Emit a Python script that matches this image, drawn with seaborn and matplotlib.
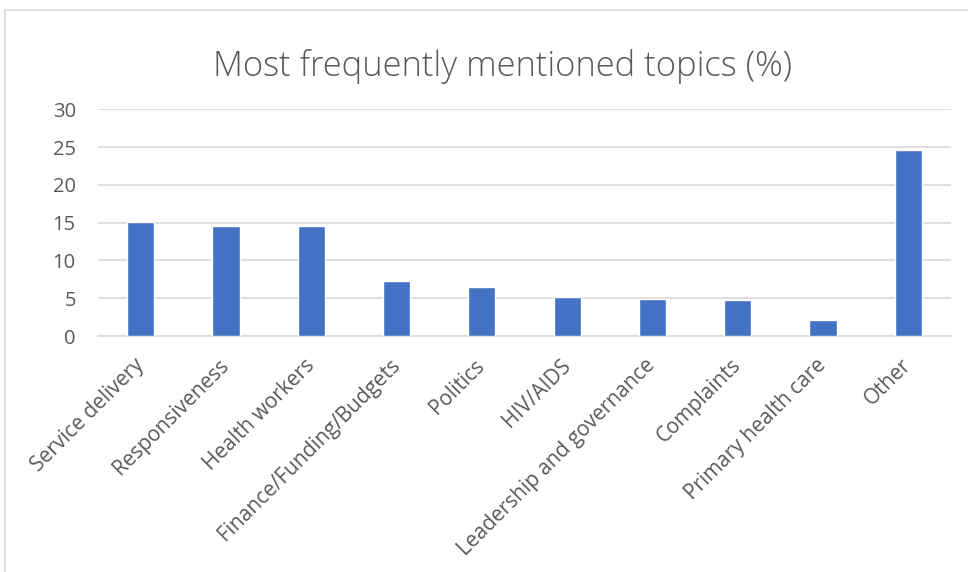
import matplotlib
matplotlib.use("Agg")
import matplotlib.pyplot as plt
import seaborn as sns
import pandas as pd
from matplotlib.patches import Rectangle

categories = ["Service delivery", "Responsiveness", "Health workers",
              "Finance/Funding/Budgets", "Politics", "HIV/AIDS",
              "Leadership and governance", "Complaints",
              "Primary health care", "Other"]
values = [15.1, 14.6, 14.5, 7.3, 6.5, 5.2, 4.9, 4.8, 2.1, 24.6]
yticks = [0, 5, 10, 15, 20, 25, 30]
title = "Most frequently mentioned topics (%)"

sns.set_theme(style="white")
plt.rcParams['font.family'] = ['Open Sans', 'DejaVu Sans']

df = pd.DataFrame({"topic": categories, "pct": values})

fig = plt.figure(figsize=(9.68, 5.72), dpi=100)
ax = fig.add_axes([98/968, 1-336/572, (951-98)/968, (336-109.3)/572])

sns.barplot(data=df, x="topic", y="pct", color="#4472c4", width=0.32,
            saturation=1, ax=ax, zorder=3)

ax.set_xlim(-0.5, len(categories)-0.5)
ax.set_ylim(0, 30)
ax.set_yticks(yticks)
ax.set_yticklabels([str(t) for t in yticks], fontsize=14.5, color="#595959")
ax.yaxis.grid(True, color="#d9d9d9", linewidth=1.2, zorder=0)
ax.set_axisbelow(True)
for s in ["top", "right", "left"]:
    ax.spines[s].set_visible(False)
ax.spines["bottom"].set_color("#d9d9d9")
ax.spines["bottom"].set_linewidth(1.2)
ax.tick_params(axis="both", length=0)
ax.tick_params(axis="y", pad=16)
ax.set_xlabel("")
ax.set_ylabel("")
ax.set_xticks(range(len(categories)))
ax.set_xticklabels(categories, rotation=45, ha="right", va="center",
                   rotation_mode="anchor", fontsize=15, color="#595959")
ax.tick_params(axis="x", pad=19)

fig.text(503/968, 1-66/572, title, ha="center", va="center",
         fontsize=24.8, color="#595959", fontweight="light")

fig.patches.append(Rectangle((5/968, -0.05), 1.2, 1-10/572+0.05,
                             transform=fig.transFigure, fill=False,
                             edgecolor="#d9d9d9", linewidth=1.2))

fig.savefig("out.png", dpi=100, facecolor="white")
